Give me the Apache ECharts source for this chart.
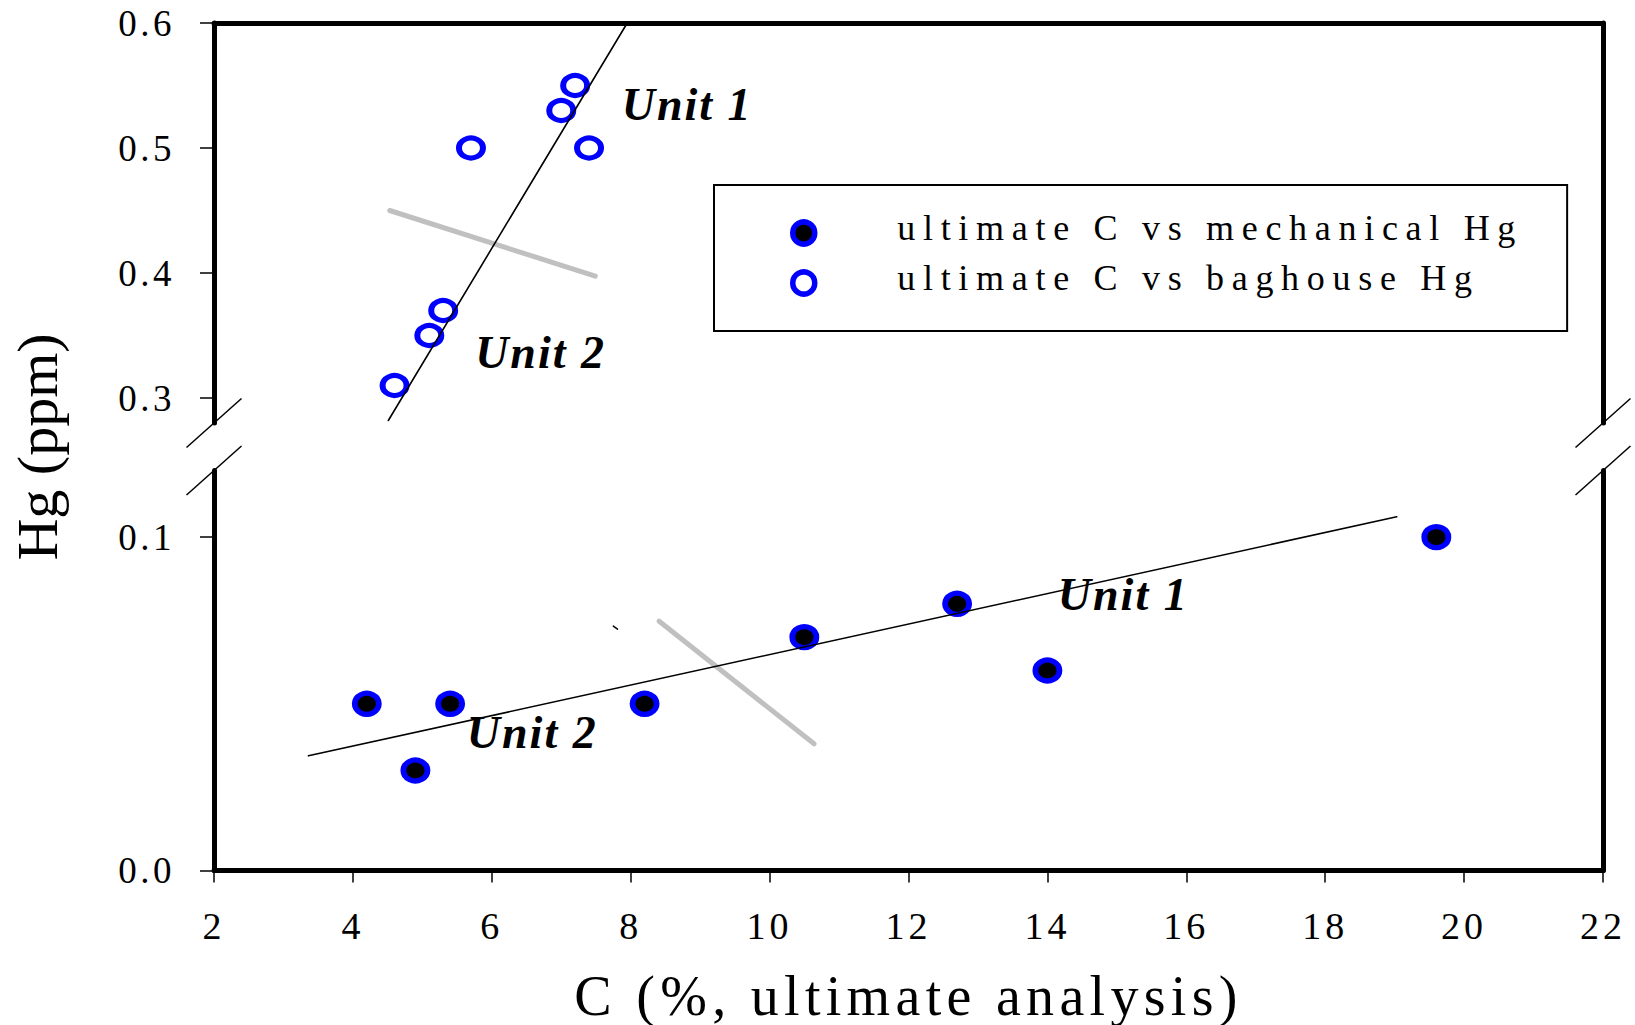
<!DOCTYPE html>
<html>
<head>
<meta charset="utf-8">
<script src="https://cdn.jsdelivr.net/npm/echarts@6/dist/echarts.min.js"></script>
<style>
html,body{margin:0;padding:0;background:#fff;}
#chart{width:1635px;height:1025px;}
/* the original figure has widely spaced lettering */
#chart text[style*="37px"]{letter-spacing:3.5px;}
#chart text[style*="38px"]{letter-spacing:4px;}
#chart text[style*="36px"]{letter-spacing:7.7px;translate:0 -5px;}
#chart text[style*="56px"]{letter-spacing:5.3px;}
#chart text[style*="46px"]{letter-spacing:2px;}
</style>
</head>
<body>
<div id="chart"></div>
<script>
// C (%) vs Hg (ppm)
var baghouseHg = [[4.6,0.31],[5.1,0.35],[5.3,0.37],[5.7,0.50],[7.0,0.53],[7.2,0.55],[7.4,0.50]];
var mechanicalHg = [[4.2,0.05],[4.9,0.03],[5.4,0.05],[8.2,0.05],[10.5,0.07],[12.7,0.08],[14.0,0.06],[19.6,0.10]];
// trend lines and unit dividers (end points)
var fitUpper = [[4.51,0.282],[7.95,0.6]];
var splitUpper = [[4.53,0.450],[7.49,0.3975]];
var fitLower = [[3.36,0.0344],[19.03,0.1061]];
var splitLower = [[8.41,0.0748],[10.64,0.038]];
var strayMark = [[7.75,0.0733],[7.81,0.0724]];
// tick values
var upperTicks = [0.3,0.4,0.5,0.6];
var lowerTicks = [0.0,0.1];
// unit annotations [x, y, text]
var unitUpper = [[7.87,0.535,'Unit 1'],[5.76,0.3366,'Unit 2']];
var unitLower = [[14.15,0.0829,'Unit 1'],[5.64,0.0415,'Unit 2']];

var serif = "'Liberation Serif', 'Times New Roman', serif";
var gridL = 214, gridR = 1603;
var upTop = 23, upBottom = 423, lowTop = 470.5, lowBottom = 870.5;

var chart = echarts.init(document.getElementById('chart'), null, {renderer:'svg'});

function frameAxis(pos, gridIndex, min, max){
    return {
        type:'value', gridIndex:gridIndex, position:pos, min:min, max:max,
        axisLine:{show:true, onZero:false, lineStyle:{color:'#000', width:5}},
        axisTick:{show:false}, axisLabel:{show:false}, splitLine:{show:false}
    };
}
function yLeft(gridIndex, min, max, ticks){
    return {
        type:'value', gridIndex:gridIndex, position:'left', min:min, max:max,
        axisLine:{show:true, onZero:false, lineStyle:{color:'#000', width:5}},
        axisTick:{show:true, inside:false, length:14, customValues:ticks, lineStyle:{color:'#000', width:1.5}},
        axisLabel:{show:true, margin:39, customValues:ticks, color:'#000', fontFamily:serif, fontSize:37,
            formatter:function(v){return v.toFixed(1);}},
        splitLine:{show:false}
    };
}
function unitSeries(list, xi, yi){
    return {
        type:'scatter', xAxisIndex:xi, yAxisIndex:yi, symbolSize:0, silent:true, z:5,
        itemStyle:{opacity:1},
        data:list.map(function(d){return {value:[d[0],d[1]], name:d[2]};}),
        label:{show:true, position:[0,0], align:'left', verticalAlign:'middle', formatter:'{b}',
            color:'#000', fontFamily:serif, fontSize:46, fontWeight:'bold', fontStyle:'italic'}
    };
}
function segment(data, xi, yi, color, width, z){
    return {
        type:'line', xAxisIndex:xi, yAxisIndex:yi, data:data, symbol:'none', silent:true, z:z,
        lineStyle:{color:color, width:width, cap:'round'}
    };
}

function breakMark(x, y){
    return {type:'line', shape:{x1:x-27.5, y1:y+24.5, x2:x+27.5, y2:y-24.5},
        style:{stroke:'#000', lineWidth:1.5}, z:10};
}

var option = {
    animation:false,
    backgroundColor:'#fff',
    grid:[
        {left:gridL, right:1635-gridR, top:upTop, height:upBottom-upTop, outerBoundsMode:'none'},
        {left:gridL, right:1635-gridR, top:lowTop, height:lowBottom-lowTop, outerBoundsMode:'none'}
    ],
    xAxis:[
        frameAxis('top', 0, 2, 22),
        {
            type:'value', gridIndex:1, position:'bottom', min:2, max:22, interval:2,
            axisLine:{show:true, onZero:false, lineStyle:{color:'#000', width:5}},
            axisTick:{show:true, inside:false, length:12, lineStyle:{color:'#000', width:1.5}},
            axisLabel:{show:true, margin:36, color:'#000', fontFamily:serif, fontSize:38},
            splitLine:{show:false},
            name:'C (%, ultimate analysis)', nameLocation:'middle', nameGap:97,
            nameTextStyle:{color:'#000', fontFamily:serif, fontSize:56}
        }
    ],
    yAxis:[
        yLeft(0, 0.28, 0.6, upperTicks),
        frameAxis('right', 0, 0.28, 0.6),
        yLeft(1, 0, 0.12, lowerTicks),
        frameAxis('right', 1, 0, 0.12)
    ],
    legend:{
        orient:'vertical', left:714, top:185,
        padding:[30, 252, 30, 76],
        borderColor:'#000', borderWidth:2,
        itemWidth:177, itemHeight:22, itemGap:14,
        selectedMode:false,
        textStyle:{color:'#000', fontFamily:serif, fontSize:36, lineHeight:36},
        data:[
            {name:'ultimate C vs mechanical Hg', icon:'circle', itemStyle:{color:'#000', borderColor:'#0000ff', borderWidth:5.5, opacity:1}},
            {name:'ultimate C vs baghouse Hg', icon:'circle', itemStyle:{color:'#fff', borderColor:'#0000ff', borderWidth:5.5, opacity:1}}
        ]
    },
    graphic:[
        {type:'text', x:37, y:447, rotation:Math.PI/2, z:10,
            style:{text:'Hg (ppm)', fill:'#000', font:"58px 'Liberation Serif'", align:'center', verticalAlign:'middle'}},
        breakMark(gridL, upBottom), breakMark(gridL, lowTop),
        breakMark(gridR, upBottom), breakMark(gridR, lowTop)
    ],
    series:[
        segment(splitUpper, 0, 0, '#c0c0c0', 5, 1),
        segment(splitLower, 1, 2, '#c0c0c0', 5, 1),
        {
            name:'ultimate C vs baghouse Hg', type:'scatter', xAxisIndex:0, yAxisIndex:0,
            data:baghouseHg, symbol:'circle', symbolSize:[24,20], z:2,
            itemStyle:{color:'#fff', borderColor:'#0000ff', borderWidth:5.5, opacity:1}
        },
        {
            name:'ultimate C vs mechanical Hg', type:'scatter', xAxisIndex:1, yAxisIndex:2,
            data:mechanicalHg, symbol:'circle', symbolSize:[24,21], z:2,
            itemStyle:{color:'#000', borderColor:'#0000ff', borderWidth:5.5, opacity:1}
        },
        segment(fitUpper, 0, 0, '#000', 1.6, 3),
        segment(fitLower, 1, 2, '#000', 1.6, 3),
        segment(strayMark, 1, 2, '#000', 1.5, 3),
        unitSeries(unitUpper, 0, 0),
        unitSeries(unitLower, 1, 2)
    ]
};
chart.setOption(option);
</script>
</body>
</html>
